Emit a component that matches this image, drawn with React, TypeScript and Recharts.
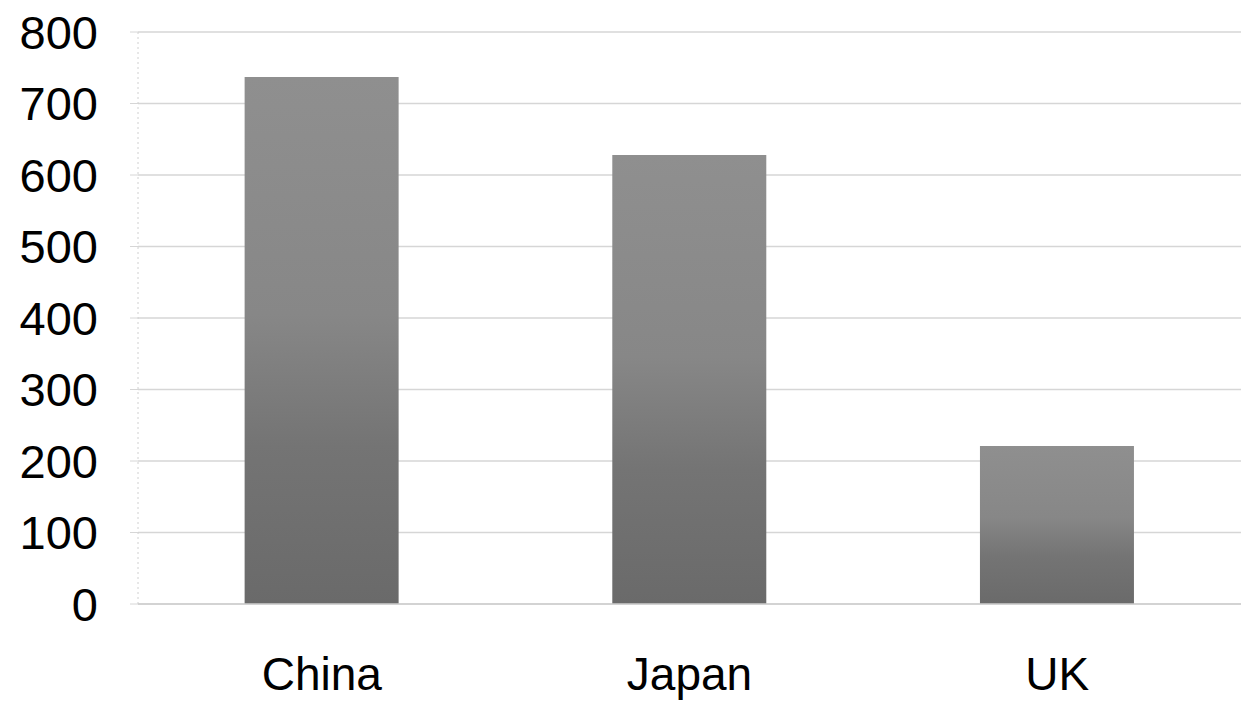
import { BarChart, Bar, XAxis, YAxis, CartesianGrid } from "recharts";

const countries = ["China", "Japan", "UK"];
const values = [737, 628, 221];
const yTicks = [0, 100, 200, 300, 400, 500, 600, 700, 800];

const data = countries.map((name, i) => ({ name, value: values[i] }));

const font = "'Liberation Sans', Arial, sans-serif";

export default function App() {
  return (
    <div style={{ position: "absolute", left: 0, top: 0, background: "#fff" }}>
      <BarChart
        width={1249}
        height={703}
        data={data}
        margin={{ top: 32, right: 8, bottom: 0, left: 0 }}
        barCategoryGap="29%"
      >
        <defs>
          <linearGradient id="barFill" x1="0" y1="0" x2="0" y2="1">
            <stop offset="0%" stopColor="#8f8f8f" />
            <stop offset="45%" stopColor="#878787" />
            <stop offset="70%" stopColor="#747474" />
            <stop offset="100%" stopColor="#6a6a6a" />
          </linearGradient>
        </defs>
        <CartesianGrid vertical={false} stroke="#d6d6d6" strokeWidth={1.5} />
        <XAxis
          dataKey="name"
          height={99}
          tickLine={false}
          tickSize={0}
          tickMargin={53}
          axisLine={{ stroke: "#cfcfcf", strokeWidth: 1.5 }}
          tick={{ fontSize: 46, fill: "#000", fontFamily: font }}
        />
        <YAxis
          width={138}
          domain={[0, 800]}
          ticks={yTicks}
          interval={0}
          tickSize={8}
          tickMargin={32}
          tickLine={{ stroke: "#d6d6d6" }}
          axisLine={{ stroke: "#d0d0d0", strokeDasharray: "2 3" }}
          tick={{ fontSize: 47, fill: "#000", fontFamily: font }}
        />
        <Bar dataKey="value" fill="url(#barFill)" isAnimationActive={false} />
      </BarChart>
    </div>
  );
}
